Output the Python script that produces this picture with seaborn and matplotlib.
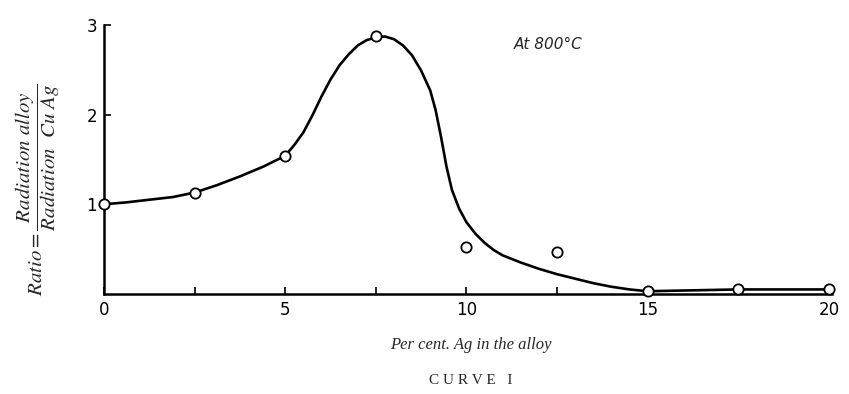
import matplotlib
matplotlib.use("Agg")
import matplotlib.pyplot as plt
import seaborn as sns
import pandas as pd

# measured points (open circles)
pct_ag = [0, 2.5, 5, 7.5, 10, 12.5, 15, 17.5, 20]
ratio = [1.0, 1.13, 1.54, 2.87, 0.52, 0.47, 0.03, 0.05, 0.05]

# hand-drawn smooth curve
curve_x = [0, 0.6, 1.25, 1.9, 2.5, 3.1, 3.75, 4.4, 5.0, 5.25, 5.5, 5.75, 6.0,
           6.25, 6.5, 6.75, 7.0, 7.25, 7.5, 7.75, 8.0, 8.25, 8.5, 8.75, 9.0,
           9.15, 9.3, 9.45, 9.6, 9.8, 10.0, 10.25, 10.5, 10.75, 11.0, 11.5,
           12.0, 12.5, 13.0, 13.5, 14.0, 14.5, 15.0, 16.25, 17.5, 18.75, 20]
curve_y = [1.0, 1.02, 1.05, 1.08, 1.13, 1.21, 1.31, 1.42, 1.54, 1.66, 1.8,
           1.99, 2.2, 2.39, 2.55, 2.67, 2.77, 2.83, 2.86, 2.87, 2.84, 2.77,
           2.66, 2.49, 2.27, 2.05, 1.75, 1.42, 1.16, 0.95, 0.8, 0.67, 0.57,
           0.49, 0.43, 0.35, 0.28, 0.22, 0.17, 0.12, 0.08, 0.05, 0.03, 0.04,
           0.05, 0.05, 0.05]

pts = pd.DataFrame({"pct": pct_ag, "ratio": ratio})
crv = pd.DataFrame({"pct": curve_x, "ratio": curve_y})

sns.set_style("ticks")
plt.rcParams["mathtext.fontset"] = "stix"

fig = plt.figure(figsize=(8.49, 3.94), dpi=100)
ax = fig.add_axes([0.1225, 0.254, 0.858, 0.683])

sns.lineplot(data=crv, x="pct", y="ratio", color="black", linewidth=1.9,
             ax=ax, zorder=2)
sns.scatterplot(data=pts, x="pct", y="ratio", marker="o", s=55,
                facecolor="white", edgecolor="black", linewidth=1.3,
                ax=ax, zorder=3, clip_on=False)

ax.set_xlim(0, 20.1)
ax.set_ylim(0, 3)
sns.despine(ax=ax)
for s in ["left", "bottom"]:
    ax.spines[s].set_linewidth(1.8)
    ax.spines[s].set_color("black")

ax.set_xticks([0, 5, 10, 15, 20])
ax.set_xticks([2.5, 7.5, 12.5, 17.5], minor=True)
ax.set_yticks([1, 2, 3])
ax.tick_params(axis="both", which="both", direction="in", length=5,
               width=1.2, colors="black", labelsize=12, pad=5)

ax.set_xlabel("")
ax.set_ylabel("")

ax.text(11.3, 2.78, "At 800°C", fontsize=11, style="italic", va="center")

fig.text(0.555, 0.125, "Per cent. Ag in the alloy", ha="center", va="center",
         fontsize=12, family="Liberation Serif", style="italic")
fig.text(0.555, 0.035, "C U R V E   I", ha="center", va="center", fontsize=11,
         family="Liberation Serif")

fig.text(0.045, 0.52,
         r"$\mathit{Ratio} = \dfrac{\mathit{Radiation\ alloy}}{\mathit{Radiation\ \ Cu\ Ag}}$",
         rotation=90, ha="center", va="center", fontsize=15)

fig.savefig("out.png", dpi=100)
